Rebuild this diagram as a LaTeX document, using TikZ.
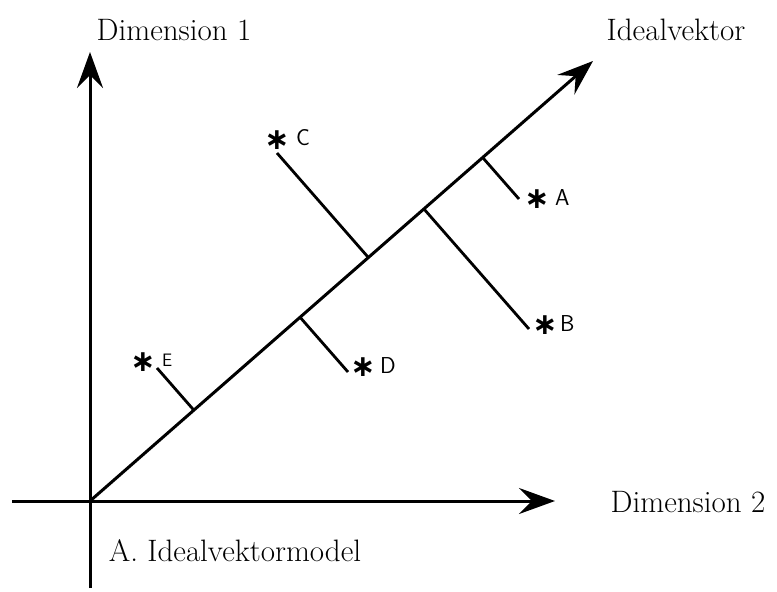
\documentclass[tikz,border=0pt]{standalone}
\usepackage{fontspec}
\newfontfamily\symfont{DejaVu Sans}
\usepackage{tikz}
\usetikzlibrary{arrows.meta,calc}
\begin{document}
\begin{tikzpicture}[x=1pt, y=-1pt]
  % Define styles
  \tikzstyle{axis} = [line width=3pt, -{Stealth[length=36pt,width=26pt,inset=13pt]}]
  \tikzstyle{proj} = [line width=2.8pt]
  \tikzstyle{title} = [font=\fontsize{31}{34}\selectfont, inner sep=0pt]
  \tikzstyle{point} = [font=\symfont\bfseries\fontsize{30}{30}\selectfont, inner sep=0pt]
  \tikzstyle{letter} = [font=\sffamily\fontsize{23}{26}\selectfont, inner sep=0pt, anchor=west]
  \useasboundingbox (0,0) rectangle (777,592);

  % Axes
  \coordinate (O) at (90,501);
  \coordinate (bottom) at (90,588);
  \coordinate (top) at (90,52);
  \coordinate (left) at (12,501);
  \coordinate (right) at (555,501);
  \coordinate (ideal) at (593,61);
  \draw[axis] (bottom) -- (top);
  \draw[axis] (left) -- (right);
  \draw[axis] (O) -- (ideal);

  % Labels
  \node[title] (dim1) at (174,30) {Dimension 1};
  \node[title] (idl) at (676,30) {Idealvektor};
  \node[title] (dim2) at (688,502) {Dimension 2};
  \node[title] (cap) at (235,551) {A. Idealvektormodel};

  % Points
  \node[point] (C) at (277,140) {∗};
  \node[point] (A) at (537,199) {∗};
  \node[point] (B) at (545,325) {∗};
  \node[point] (D) at (363,367) {∗};
  \node[point] (E) at (143,362) {∗};
  \node[letter] (lC) at (296,138) {C};
  \node[letter] (lA) at (555,198) {A};
  \node[letter] (lB) at (560,324) {B};
  \node[letter] (lD) at (380,366) {D};
  \node[letter, font=\sffamily\fontsize{18}{20}\selectfont] (lE) at (162,360) {E};

  % Projections onto the ideal vector
  \coordinate (eC) at (277,153);
  \coordinate (eA) at (519,199);
  \coordinate (eB) at (529,329);
  \coordinate (eD) at (348,372);
  \coordinate (eE) at (157,368);
  \foreach \p in {A,B,C,D,E}
    \draw[proj] (e\p) -- ($(O)!(e\p)!(ideal)$);

\end{tikzpicture}
\end{document}
